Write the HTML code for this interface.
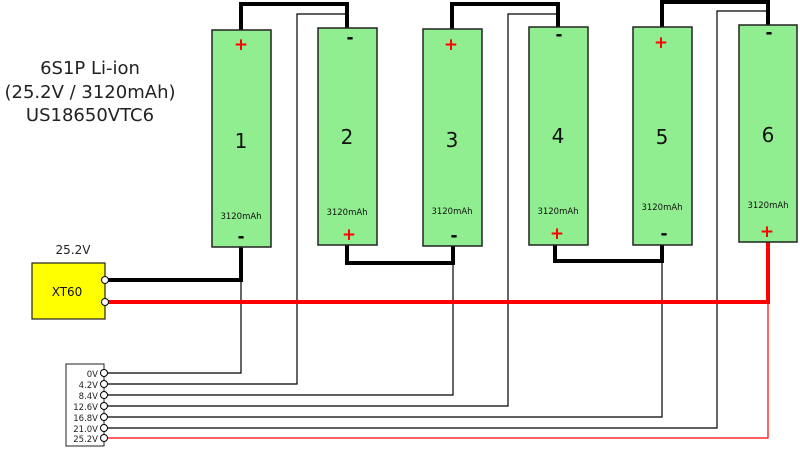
<!DOCTYPE html>
<html><head><meta charset="utf-8"><style>body{margin:0;background:#fff}svg{display:block}text{font-family:"DejaVu Sans","Liberation Sans",sans-serif}</style></head><body>
<svg width="800" height="449" viewBox="0 0 800 449" xmlns="http://www.w3.org/2000/svg">
<rect width="800" height="449" fill="#fff"/>
<text x="90" y="74" font-size="18" text-anchor="middle" fill="#222">6S1P Li-ion</text>
<text x="90" y="98" font-size="18" text-anchor="middle" fill="#222">(25.2V / 3120mAh)</text>
<text x="90" y="121" font-size="18" text-anchor="middle" fill="#222">US18650VTC6</text>
<text x="73" y="254" font-size="12" text-anchor="middle" fill="#222">25.2V</text>
<g fill="none" stroke="#000" stroke-width="1.2">
<polyline points="104,373 241,373 241,280"/>
<polyline points="104,384 297,384 297,14 347,14"/>
<polyline points="104,395 453,395 453,263"/>
<polyline points="104,406 508,406 508,14 558,14"/>
<polyline points="104,417 662,417 662,261"/>
<polyline points="104,428 717,428 717,11 768,11"/>
</g>
<polyline points="104,438 768,438 768,302" fill="none" stroke="#f00" stroke-width="1.2"/>
<g fill="none" stroke="#000" stroke-width="4">
<polyline points="241,30 241,4 347,4 347,28"/>
<polyline points="452,29 452,4 558,4 558,27"/>
<polyline points="662,27 662,2 768,2 768,25"/>
<polyline points="105,280 241,280 241,247"/>
<polyline points="347,245 347,263 453,263 453,246"/>
<polyline points="555,245 555,261 662,261 662,245"/>
</g>
<polyline points="105,302 768,302 768,242" fill="none" stroke="#f00" stroke-width="4"/>
<g stroke="#222" stroke-width="1.5" fill="#90ee90">
<rect x="212" y="30" width="59" height="217"/>
<rect x="318" y="28" width="59" height="217"/>
<rect x="423" y="29" width="59" height="217"/>
<rect x="529" y="27" width="59" height="218"/>
<rect x="633" y="27" width="59" height="218"/>
<rect x="739" y="25" width="58" height="217"/>
</g>
<g font-size="20" text-anchor="middle" fill="#111">
<text x="241" y="148">1</text><text x="347" y="144">2</text><text x="452" y="147">3</text>
<text x="558" y="143">4</text><text x="662" y="144">5</text><text x="768" y="142">6</text>
</g>
<g font-size="8.5" text-anchor="middle" fill="#111">
<text x="241" y="219">3120mAh</text><text x="347" y="215">3120mAh</text><text x="452" y="214">3120mAh</text>
<text x="558" y="214">3120mAh</text><text x="662" y="210">3120mAh</text><text x="768" y="208">3120mAh</text>
</g>
<g font-size="17" text-anchor="middle" font-weight="bold">
<text x="241" y="50" fill="#f00">+</text><text x="241" y="242" fill="#000">-</text>
<text x="350" y="43" fill="#000">-</text><text x="349" y="240" fill="#f00">+</text>
<text x="451" y="50" fill="#f00">+</text><text x="454" y="241" fill="#000">-</text>
<text x="559" y="40" fill="#000">-</text><text x="557" y="239" fill="#f00">+</text>
<text x="661" y="48" fill="#f00">+</text><text x="664" y="239" fill="#000">-</text>
<text x="769" y="38" fill="#000">-</text><text x="767" y="237" fill="#f00">+</text>
</g>
<rect x="32" y="263" width="73" height="56" fill="#ff0" stroke="#222" stroke-width="1.2"/>
<text x="67" y="296" font-size="12" text-anchor="middle" fill="#111">XT60</text>
<circle cx="105" cy="280" r="3.5" fill="#fff" stroke="#000"/>
<circle cx="105" cy="302" r="3.5" fill="#fff" stroke="#000"/>
<rect x="66" y="364" width="38" height="82" fill="#fff" stroke="#222" stroke-width="1"/>
<g font-size="8.5" text-anchor="end" fill="#222">
<text x="98" y="377">0V</text><text x="98" y="388">4.2V</text><text x="98" y="399">8.4V</text>
<text x="98" y="410">12.6V</text><text x="98" y="421">16.8V</text><text x="98" y="432">21.0V</text><text x="98" y="442">25.2V</text>
</g>
<g fill="#fff" stroke="#000">
<circle cx="104" cy="373" r="3.5"/><circle cx="104" cy="384" r="3.5"/><circle cx="104" cy="395" r="3.5"/>
<circle cx="104" cy="406" r="3.5"/><circle cx="104" cy="417" r="3.5"/><circle cx="104" cy="428" r="3.5"/><circle cx="104" cy="438" r="3.5"/>
</g>
</svg>
</body></html>
